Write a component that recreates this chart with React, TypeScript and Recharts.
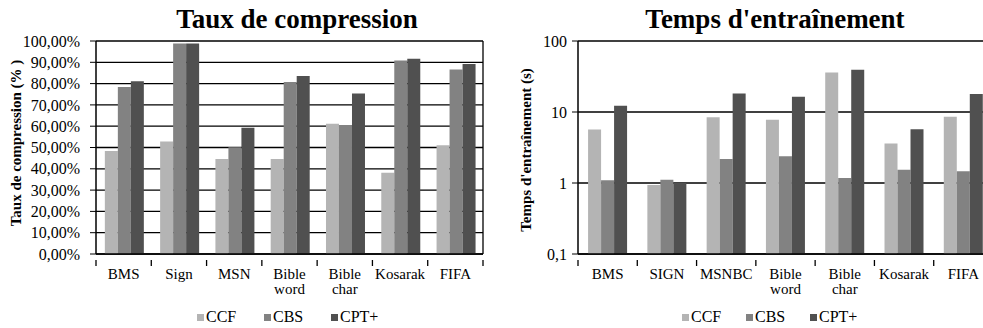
import { BarChart, Bar, XAxis, YAxis, CartesianGrid } from 'recharts'

const compCategories = ['BMS', 'Sign', 'MSN', 'Bible\nword', 'Bible\nchar', 'Kosarak', 'FIFA']
const compCCF = [48.4, 52.8, 44.6, 44.6, 61.2, 38.2, 51.0]
const compCBS = [78.4, 98.8, 50.1, 80.8, 60.6, 90.9, 86.6]
const compCPT = [81.1, 98.8, 59.3, 83.6, 75.3, 91.7, 89.2]
const compTicks = [0, 10, 20, 30, 40, 50, 60, 70, 80, 90, 100]

const timeCategories = ['BMS', 'SIGN', 'MSNBC', 'Bible\nword', 'Bible\nchar', 'Kosarak', 'FIFA']
const timeCCF = [5.66, 0.94, 8.45, 7.76, 36.1, 3.59, 8.55]
const timeCBS = [1.09, 1.11, 2.18, 2.38, 1.18, 1.54, 1.46]
const timeCPT = [12.2, 1.0, 18.2, 16.4, 39.5, 5.71, 17.9]
const timeTicks = [0.1, 1, 10, 100]

const seriesNames = ['CCF', 'CBS', 'CPT+']
const seriesColors = ['#b4b4b4', '#828282', '#505050']

const FONT = 'Liberation Serif, Times New Roman, serif'

const compData = compCategories.map((name, i) => ({
  name,
  CCF: compCCF[i],
  CBS: compCBS[i],
  'CPT+': compCPT[i],
}))

const timeData = timeCategories.map((name, i) => ({
  name,
  CCF: timeCCF[i],
  CBS: timeCBS[i],
  'CPT+': timeCPT[i],
}))

const fmtPct = (v: number) => v.toFixed(2).replace('.', ',') + '%'
const fmtLog = (v: number) => String(v).replace('.', ',')

// category label with Excel style tick marks on the band boundaries
function makeCatTick(bandWidth: number, count: number) {
  return (props: any) => {
    const { x, y, payload, index } = props
    const lines = String(payload.value).split('\n')
    const half = bandWidth / 2
    return (
      <g>
        <line x1={x - half} x2={x - half} y1={y - 2} y2={y + 4} stroke="#000" strokeWidth={1.3} />
        {index === count - 1 && (
          <line x1={x + half} x2={x + half} y1={y - 2} y2={y + 4} stroke="#000" strokeWidth={1.3} />
        )}
        <text x={x} y={y + 17} textAnchor="middle" fontFamily={FONT} fontSize={15} fill="#000">
          {lines.map((l, i) => (
            <tspan key={i} x={x} dy={i === 0 ? 0 : 15}>
              {l}
            </tspan>
          ))}
        </text>
      </g>
    )
  }
}

function Legend({ left, pitch }: { left: number; pitch: number }) {
  return (
    <div style={{ position: 'absolute', left, top: 308, display: 'flex', fontFamily: FONT, fontSize: 16 }}>
      {seriesNames.map((s, i) => (
        <div key={s} style={{ width: pitch, display: 'flex', alignItems: 'center', lineHeight: '18px' }}>
          <span style={{ width: 7, height: 7, background: seriesColors[i], marginRight: 2, display: 'inline-block' }} />
          <span>{s}</span>
        </div>
      ))}
    </div>
  )
}

function Title({ text, cx }: { text: string; cx: number }) {
  return (
    <div
      style={{
        position: 'absolute',
        left: cx - 200,
        width: 400,
        top: 6,
        textAlign: 'center',
        fontFamily: FONT,
        fontWeight: 'bold',
        fontSize: 27,
        lineHeight: '27px',
        whiteSpace: 'nowrap',
      }}
    >
      {text}
    </div>
  )
}

function YTitle({ text, cx, cy, size }: { text: string; cx: number; cy: number; size: number }) {
  return (
    <div
      style={{
        position: 'absolute',
        left: cx,
        top: cy,
        transform: 'translate(-50%, -50%) rotate(-90deg)',
        fontFamily: FONT,
        fontWeight: 'bold',
        fontSize: size,
        whiteSpace: 'nowrap',
      }}
    >
      {text}
    </div>
  )
}

export default function App() {
  const leftPlotW = 490 - 96 - 7
  const rightPlotW = 510 - 88 - 7
  return (
    <div
      style={{
        position: 'absolute',
        left: 0,
        top: 0,
        width: 983,
        height: 328,
        overflow: 'hidden',
        background: '#fff',
      }}
    >
      <Title text="Taux de compression" cx={297} />
      <Title text="Temps d'entraînement" cx={775} />
      <YTitle text="Taux de compression (% )" cx={16} cy={143} size={15} />
      <YTitle text="Temps d'entraînement (s)" cx={526} cy={150} size={15} />

      <div style={{ position: 'absolute', left: 0, top: 0 }}>
        <BarChart
          width={490}
          height={328}
          data={compData}
          margin={{ top: 41, right: 7, left: 0, bottom: 34 }}
          barCategoryGap="16%"
          barGap={0}
        >
          <CartesianGrid
            stroke="#000"
            strokeWidth={1.3}
            verticalCoordinatesGenerator={({ offset }: any) => [offset.left + offset.width]}
          />
          <XAxis
            dataKey="name"
            height={40}
            interval={0}
            tickLine={false}
            axisLine={{ stroke: '#000', strokeWidth: 1.5 }}
            tick={makeCatTick(leftPlotW / compCategories.length, compCategories.length)}
          />
          <YAxis
            width={96}
            domain={[0, 100]}
            ticks={compTicks}
            interval={0}
            tickFormatter={fmtPct}
            tickSize={6}
            tickMargin={10}
            tickLine={{ stroke: '#000' }}
            axisLine={{ stroke: '#000', strokeWidth: 1.5 }}
            tick={{ fill: '#000', fontFamily: FONT, fontSize: 16 }}
          />
          {seriesNames.map((s, i) => (
            <Bar key={s} dataKey={s} fill={seriesColors[i]} isAnimationActive={false} />
          ))}
        </BarChart>
      </div>

      <div style={{ position: 'absolute', left: 490, top: 0 }}>
        <BarChart
          width={510}
          height={328}
          data={timeData}
          margin={{ top: 41, right: 7, left: 0, bottom: 34 }}
          barCategoryGap="17%"
          barGap={0}
        >
          <CartesianGrid stroke="#000" strokeWidth={1.3} vertical={false} />
          <XAxis
            dataKey="name"
            height={40}
            interval={0}
            tickLine={false}
            axisLine={{ stroke: '#000', strokeWidth: 1.5 }}
            tick={makeCatTick(rightPlotW / timeCategories.length, timeCategories.length)}
          />
          <YAxis
            width={88}
            scale="log"
            domain={[0.1, 100]}
            allowDataOverflow
            ticks={timeTicks}
            interval={0}
            tickFormatter={fmtLog}
            tickSize={6}
            tickMargin={5}
            tickLine={{ stroke: '#000' }}
            axisLine={{ stroke: '#000', strokeWidth: 1.5 }}
            tick={{ fill: '#000', fontFamily: FONT, fontSize: 16 }}
          />
          {seriesNames.map((s, i) => (
            <Bar key={s} dataKey={s} fill={seriesColors[i]} isAnimationActive={false} />
          ))}
        </BarChart>
      </div>

      <Legend left={197} pitch={67} />
      <Legend left={682} pitch={64} />
    </div>
  )
}
